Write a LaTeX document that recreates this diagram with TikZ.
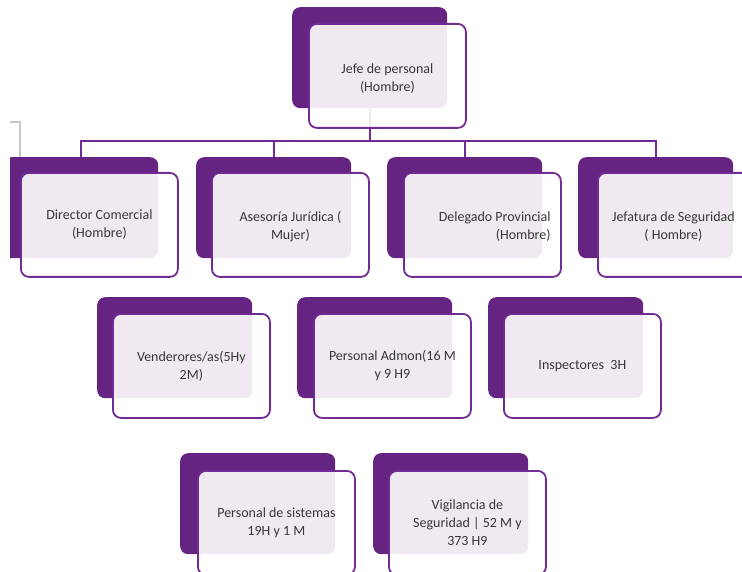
\documentclass[tikz,border=0pt]{standalone}
\usepackage{fontspec}
\setmainfont{Carlito}
\definecolor{backpurple}{RGB}{102,36,130}
\definecolor{linepurple}{RGB}{112,44,148}
\definecolor{txtgray}{RGB}{55,55,55}
\definecolor{bracketgray}{RGB}{200,200,200}
\tikzset{
  backbox/.style={draw=none, fill=backpurple, rounded corners=8pt, minimum width=155pt, minimum height=101pt, anchor=north west, inner sep=0pt},
  frontbox/.style={draw=linepurple, line width=1.8pt, fill=white, fill opacity=0.9, text opacity=1, draw opacity=1, rounded corners=8pt, minimum width=157pt, minimum height=104pt, anchor=north west, inner sep=0pt},
  lbl/.style={text=txtgray, align=center, font=\fontsize{14}{18}\selectfont, inner sep=0pt},
  conn/.style={draw=linepurple, line width=1.8pt},
}
\begin{document}
\begin{tikzpicture}[x=1pt,y=-1pt]
\useasboundingbox (0,0) rectangle (742,572);
\clip (10,0) rectangle (742,572);
% gray bracket
\draw[bracketgray, line width=1.3pt] (10,122) -- (20,122) -- (20,162) -- (10,162);
% back boxes
\node[backbox] (topb) at (292,7) {};
\node[backbox] (dirb) at (3,157) {};
\node[backbox] (aseb) at (196,157) {};
\node[backbox] (delb) at (387,157) {};
\node[backbox] (jefb) at (578,157) {};
\node[backbox] (venb) at (97,297) {};
\node[backbox] (admb) at (297,297) {};
\node[backbox] (insb) at (488,297) {};
\node[backbox] (sisb) at (180,453) {};
\node[backbox] (vigb) at (373,453) {};
% connectors
\coordinate (bus) at (0,141);
\draw[conn] (topb.south) -- (topb.south |- bus) -| (dirb.north);
\draw[conn] (topb.south |- bus) -| (aseb.north);
\draw[conn] (topb.south |- bus) -| (delb.north);
\draw[conn] (topb.south |- bus) -| (jefb.north);
% front boxes
\node[frontbox] (topf) at (308,23) {};
\node[frontbox] (dirf) at (20,172) {};
\node[frontbox] (asef) at (211,172) {};
\node[frontbox] (delf) at (403,172) {};
\node[frontbox] (jeff) at (597,172) {};
\node[frontbox] (venf) at (112,313) {};
\node[frontbox] (admf) at (313,313) {};
\node[frontbox] (insf) at (503,313) {};
\node[frontbox] (sisf) at (197,470) {};
\node[frontbox] (vigf) at (388,470) {};
% labels
\node[lbl] (topt) at ([yshift=-3pt]topf.center) {Jefe de personal\\(Hombre)};
\node[lbl] (dirt) at (dirf.center) {Director Comercial\\(Hombre)};
\node[lbl] (aset) at ([yshift=-2pt]asef.center) {Asesoría Jurídica (\\Mujer)};
\node[lbl, align=right, anchor=east] (delt) at ([xshift=-11pt,yshift=-2pt]delf.east) {Delegado Provincial\\(Hombre)};
\node[lbl] (jeft) at ([xshift=-3pt,yshift=-2pt]jeff.center) {Jefatura de Seguridad\\( Hombre)};
\node[lbl] (vent) at (venf.center) {Venderores/as(5Hy\\2M)};
\node[lbl] (admt) at (admf.center) {Personal Admon(16 M\\y 9 H9};
\node[lbl] (inst) at (insf.center) {Inspectores~~3H};
\node[lbl] (sist) at (sisf.center) {Personal de sistemas\\19H y 1 M};
\node[lbl] (vigt) at (vigf.center) {Vigilancia de\\Seguridad | 52 M y\\373 H9};
\end{tikzpicture}
\end{document}
